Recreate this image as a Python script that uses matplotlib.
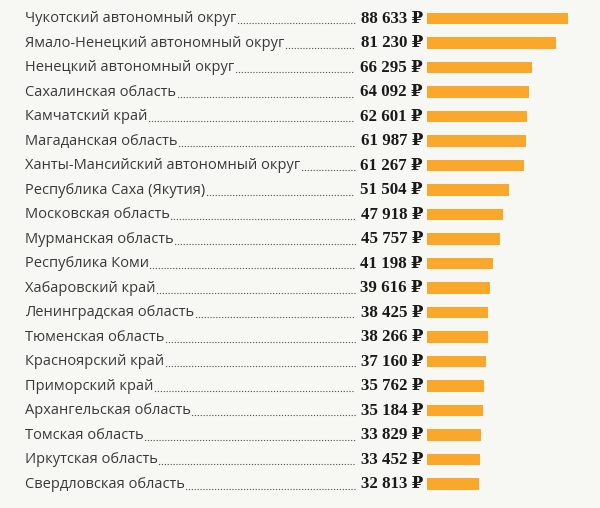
import matplotlib.pyplot as plt
from matplotlib.lines import Line2D
from matplotlib import transforms

regions = [
    "Чукотский автономный округ",
    "Ямало-Ненецкий автономный округ",
    "Ненецкий автономный округ",
    "Сахалинская область",
    "Камчатский край",
    "Магаданская область",
    "Ханты-Мансийский автономный округ",
    "Республика Саха (Якутия)",
    "Московская область",
    "Мурманская область",
    "Республика Коми",
    "Хабаровский край",
    "Ленинградская область",
    "Тюменская область",
    "Красноярский край",
    "Приморский край",
    "Архангельская область",
    "Томская область",
    "Иркутская область",
    "Свердловская область",
]
salaries = [88633, 81230, 66295, 64092, 62601, 61987, 61267, 51504, 47918, 45757,
            41198, 39616, 38425, 38266, 37160, 35762, 35184, 33829, 33452, 32813]

W, H = 600, 508
BG = "#f7f7f4"
BAR = "#f9a82b"

fig = plt.figure(figsize=(W / 100, H / 100), dpi=100, facecolor=BG)

# bar axes: x in rubles, y in row index
top, step = 18.7, 24.5
bar_left, bar_right = 427, 568
ax = fig.add_axes([bar_left / W, 0, (bar_right - bar_left) / W, 1])
ax.set_facecolor("none")
n = len(regions)
ax.barh(range(n), salaries, height=0.47, color=BAR, edgecolor="none")
ax.set_xlim(0, max(salaries))
ax.set_ylim((H - top) / step, -top / step)
ax.axis("off")

trans = transforms.blended_transform_factory(fig.transFigure, ax.transData)
off = transforms.ScaledTranslation(0, -4.5 / 100, fig.dpi_scale_trans)

labels = []
for i, (name, val) in enumerate(zip(regions, salaries)):
    t = fig.text(25 / W, i, name, transform=trans, ha="left", va="center",
                 fontsize=10.5, family="Open Sans", color="#3a3a3a")
    labels.append(t)
    s = f"{val:,}".replace(",", " ") + " ₽"
    fig.text(423 / W, i, s, transform=trans, ha="right", va="center",
             fontsize=12.2, fontweight="bold",
             family=["Liberation Serif", "DejaVu Serif"], color="#1a1a1a")

# dotted leaders between name and value
fig.canvas.draw()
r = fig.canvas.get_renderer()
for i, t in enumerate(labels):
    x0 = t.get_window_extent(r).x1 / W + 1.5 / W
    fig.add_artist(Line2D([x0, 355 / W], [i, i], transform=trans + off,
                          color="#555555", lw=0.95,
                          linestyle=(0, (0.1, 2.1)), dash_capstyle="round"))

fig.savefig("out.png", dpi=100, facecolor=BG)
